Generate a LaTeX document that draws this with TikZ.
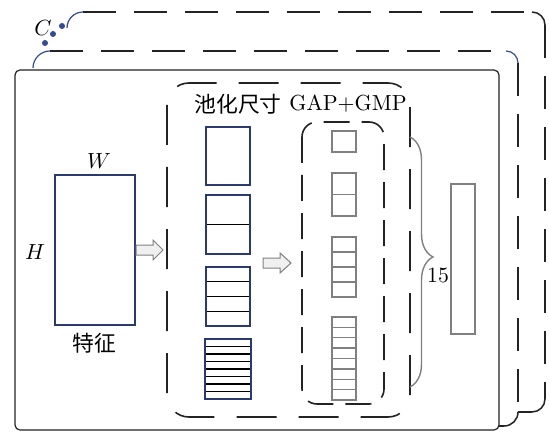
\documentclass[tikz,border=0pt]{standalone}
\usepackage{fontspec}
\newfontfamily\cjk{Noto Sans CJK SC}
\usetikzlibrary{decorations.pathreplacing}
\definecolor{navy}{RGB}{43,58,110}
\definecolor{arcblue}{RGB}{55,75,140}
\definecolor{linegray}{RGB}{35,35,35}
\definecolor{cellgray}{RGB}{128,128,128}
\tikzset{
 backdash/.style={draw=linegray, line width=0.75pt, dash pattern=on 16.5pt off 9pt},
 backcorner/.style={draw=linegray, line width=0.75pt},
 bluecorner/.style={draw=arcblue, line width=0.6pt},
 frontbox/.style={draw=linegray, line width=0.6pt, fill=white, rounded corners=2.5pt},
 pooldash/.style={draw=linegray, line width=0.8pt, dash pattern=on 20pt off 11pt, rounded corners=11pt},
 gapdash/.style={draw=linegray, line width=0.8pt, dash pattern=on 13pt off 6pt, rounded corners=7.5pt},
 poolbox/.style={draw=navy, line width=0.6pt},
 poolline/.style={draw=black, line width=0.6pt},
 cellbox/.style={draw=cellgray, line width=0.7pt},
 hollowarrow/.style={draw=gray, fill=gray!12, line width=0.5pt},
 lbl/.style={font=\fontsize{10.9}{13}\selectfont, inner sep=0pt},
}
\begin{document}
\begin{tikzpicture}[x=0.5pt,y=-0.5pt]
\useasboundingbox (0,0) rectangle (549,432);
% ---- outer back layer
\fill[white] (67,12) rectangle (545,412);
\draw[backdash] (83,12) -- (532,12);
\draw[backcorner] (532,12) arc[start angle=90,end angle=0,radius=6.5pt];
\draw[backdash] (545,25) -- (545,399);
\draw[backcorner] (545,399) arc[start angle=0,end angle=-90,radius=6.5pt];
\draw[backdash] (532,412) -- (67,412);
\draw[bluecorner] (67,28) arc[start angle=180,end angle=90,radius=8pt];
% ---- middle back layer
\fill[white] (33,51) rectangle (518,426);
\draw[backdash] (50,51) -- (506,51);
\draw[bluecorner] (506,51) arc[start angle=90,end angle=0,radius=6pt];
\draw[backdash] (518,63) -- (518,412);
\draw[backcorner] (518,412) arc[start angle=0,end angle=-90,radius=7pt];
\draw[backdash] (504,426) -- (33,426);
\draw[bluecorner] (33,68) arc[start angle=180,end angle=90,radius=8.5pt];
% ---- C and dots
\node[lbl] (c) at (43,28) {$C$};
\fill[arcblue] (45,43) circle (1.5pt);
\fill[arcblue] (53,34) circle (1.5pt);
\fill[arcblue] (62,26) circle (1.5pt);
% ---- front layer
\draw[frontbox] (15,70) rectangle (499,430);
% feature map
\node[draw=navy, line width=0.6pt, minimum width=40pt, minimum height=75pt, inner sep=0pt] (feat) at (95,250) {};
\node[lbl] (w) at (99,161) {$W$};
\node[lbl] (h) at (35,252) {$H$};
\node[lbl] (tz) at (94,343) {\cjk 特征};
% arrows
\draw[hollowarrow] (136,245) -- (153,245) -- (153,240) -- (163,250) -- (153,260) -- (153,255) -- (136,255) -- cycle;
\draw[hollowarrow] (263,258) -- (280,258) -- (280,253) -- (291,263) -- (280,273) -- (280,268) -- (263,268) -- cycle;
% pooling block
\draw[pooldash] (167,83) rectangle (410,417);
\node[lbl] (pool) at (238,104) {\cjk 池化尺寸};
\node[lbl] (gap) at (348,104) {GAP+GMP};
\draw[poolbox] (206,127) rectangle (250,185);
\draw[poolline] (206,224.5) -- (250,224.5);
\draw[poolbox] (206,195) rectangle (250,254);
\foreach \i in {1,2,3} \draw[poolline] (206,267+14.75*\i) -- (250,267+14.75*\i);
\draw[poolbox] (206,267) rectangle (250,326);
\foreach \i in {1,...,7} \draw[poolline] (205,339+7.5*\i) -- (251,339+7.5*\i);
\draw[poolbox] (205,339) rectangle (251,399);
% GAP+GMP block
\draw[gapdash] (302,122) rectangle (384,404);
\draw[cellbox] (332,131) rectangle (356,152);
\draw[cellbox] (332,173) rectangle (356,216);
\draw[cellbox] (332,194.5) -- (356,194.5);
\draw[cellbox] (332,237) rectangle (356,297);
\foreach \i in {1,2,3} \draw[cellbox] (332,237+15*\i) -- (356,237+15*\i);
\draw[cellbox] (332,317) rectangle (356,400);
\foreach \i in {1,...,7} \draw[cellbox] (332,317+10.375*\i) -- (356,317+10.375*\i);
% brace and output
\draw[cellgray, line width=0.7pt, decorate, decoration={brace, amplitude=11.5pt, aspect=0.48}] (410,137) -- (410,387);
\node[lbl] (n15) at (438,275) {15};
\draw[cellbox] (451,184) rectangle (475,334);
\end{tikzpicture}
\end{document}
